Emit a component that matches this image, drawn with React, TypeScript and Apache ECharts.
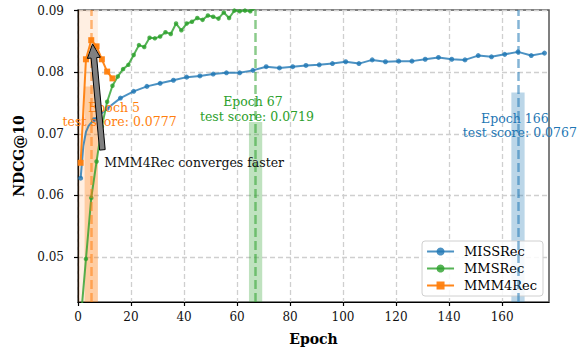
import React, { useEffect, useRef } from "react";
import * as echarts from "echarts";

// ---------- data ----------
const missEpochs = [1, 2, 3, 4, 6, 11, 16, 21, 26, 31, 36, 41, 46, 51, 56, 61, 66, 71, 76, 81, 86, 91, 96, 101, 106, 111, 116, 121, 126, 131, 136, 141, 146, 151, 156, 161, 166, 171, 176];
const missValues = [0.0628, 0.068, 0.0703, 0.0713, 0.0723, 0.0741, 0.0758, 0.0769, 0.0777, 0.0782, 0.0787, 0.0792, 0.0794, 0.0797, 0.0799, 0.0799, 0.0803, 0.0809, 0.0807, 0.0809, 0.0811, 0.0812, 0.0814, 0.0817, 0.0814, 0.082, 0.0817, 0.0818, 0.0818, 0.0821, 0.0824, 0.0821, 0.082, 0.0827, 0.0825, 0.0829, 0.0833, 0.0827, 0.0831];

const mmsEpochs = [1, 3, 5, 7, 9, 11, 13, 15, 17, 19, 21, 23, 25, 27, 29, 31, 33, 35, 37, 39, 41, 43, 45, 47, 49, 51, 53, 55, 57, 59, 61, 63, 65, 67];
const mmsValues = [0.0397, 0.0497, 0.0596, 0.0655, 0.0712, 0.0752, 0.0778, 0.0793, 0.0805, 0.0812, 0.0828, 0.0844, 0.0841, 0.0856, 0.0855, 0.0858, 0.0865, 0.0862, 0.0879, 0.0868, 0.0879, 0.0882, 0.0888, 0.0885, 0.0892, 0.089, 0.0887, 0.0897, 0.0888, 0.09, 0.0899, 0.09, 0.0899, 0.0904];

const mm4Epochs = [1, 3, 5, 7, 9, 11, 13];
const mm4Values = [0.0653, 0.0821, 0.0852, 0.0842, 0.0821, 0.0801, 0.079];

const seriesNames = ["MISSRec", "MMSRec", "MMM4Rec"];
const bestEpochs = [166, 67, 5];
const testScores = [0.0767, 0.0719, 0.0777];

const xTicks = [0, 20, 40, 60, 80, 100, 120, 140, 160];
const yTicks = [0.05, 0.06, 0.07, 0.08, 0.09];

const noteText = "MMM4Rec converges faster";

// ---------- layout / style ----------
const SERIF = "'DejaVu Serif', serif";
const COLORS = ["#1f77b4", "#2ca02c", "#ff7f0e"];
const X_MAX = 177.7;
const Y_MIN = 0.0427;
const Y_MAX = 0.0901;
const BAR_HALF = 2.5;
// text anchors (data coords) for [line1, line2] of each annotation
const ANN_POS = [
  [[164.8, 0.07243], [166.7, 0.07016]],
  [[66.0, 0.07519], [67.5, 0.07276]],
  [[13.6, 0.07422], [15.7, 0.07195]],
];
const NOTE_POS = [9.9, 0.0653];
const ARROW_TIP = [5.5, 0.0846];
const ARROW_TAIL = [9.2, 0.0674];

export default function App() {
  const ref = useRef<HTMLDivElement>(null);

  useEffect(() => {
    document.body.style.margin = "0";
    if (!ref.current) return;
    const chart = echarts.init(ref.current, undefined, { renderer: "svg" });

    const lineData = [
      missEpochs.map((e, i) => [e, missValues[i]]),
      mmsEpochs.map((e, i) => [e, mmsValues[i]]),
      mm4Epochs.map((e, i) => [e, mm4Values[i]]),
    ];

    const mainSeries = seriesNames.map((name, k) => {
      const areas: any[] = [
        [
          { coord: [bestEpochs[k] - BAR_HALF, Y_MIN], itemStyle: { color: COLORS[k], opacity: 0.3 } },
          { coord: [bestEpochs[k] + BAR_HALF, testScores[k]] },
        ],
      ];
      if (k === 2) {
        areas.unshift([
          { xAxis: 0, itemStyle: { color: COLORS[k], opacity: 0.12 } },
          { xAxis: bestEpochs[k] + BAR_HALF },
        ]);
      }
      return {
        name,
        type: "line",
        data: lineData[k],
        color: COLORS[k],
        symbol: k === 2 ? "rect" : "circle",
        showAllSymbol: true,
        symbolSize:
          k === 0
            ? (v: number[]) => ((v[0] - 1) % 5 === 0 ? 5 : 0)
            : k === 1
            ? 4.5
            : 6,
        lineStyle: { width: 2, opacity: k === 2 ? 0.95 : 0.8 },
        itemStyle: { color: COLORS[k], opacity: k === 2 ? 0.95 : 0.8 },
        z: 3 + k,
        markArea: { silent: true, data: areas, z: 1 },
        markLine: {
          silent: true,
          symbol: ["none", "none"],
          label: { show: false },
          lineStyle: { color: COLORS[k], type: [9, 4], width: 2.5, opacity: 0.55 },
          data: [{ xAxis: bestEpochs[k] }],
        },
      };
    });

    const annData: any[] = [];
    seriesNames.forEach((_, k) => {
      annData.push({
        value: ANN_POS[k][0],
        label: { formatter: "Epoch " + bestEpochs[k], color: COLORS[k] },
      });
      annData.push({
        value: ANN_POS[k][1],
        label: { formatter: "test score: " + testScores[k].toFixed(4), color: COLORS[k] },
      });
    });
    annData.push({
      value: NOTE_POS,
      label: { formatter: noteText, color: "#111", align: "left" },
    });

    const option: any = {
      animation: false,
      textStyle: { fontFamily: SERIF },
      grid: { left: 78, right: 37, top: 10, bottom: 50, show: true, borderColor: "#555", borderWidth: 1.5 },
      legend: {
        data: seriesNames,
        orient: "vertical",
        right: 43,
        bottom: 56,
        backgroundColor: "rgba(255,255,255,0.85)",
        borderColor: "#d0d0d0",
        borderWidth: 1,
        borderRadius: 3,
        padding: [4, 6, 4, 4],
        itemWidth: 27,
        itemHeight: 10,
        itemGap: 4,
        textStyle: { fontFamily: SERIF, fontSize: 13, color: "#000", padding: [0, 0, 0, 5] },
      },
      xAxis: {
        type: "value",
        min: 0,
        max: X_MAX,
        name: "Epoch",
        nameLocation: "middle",
        nameGap: 30,
        nameTextStyle: { fontFamily: SERIF, fontWeight: "bold", fontSize: 14, color: "#000" },
        axisLine: { show: true, onZero: false, lineStyle: { color: "#000", width: 1.2 } },
        axisTick: { show: true, length: 4, lineStyle: { color: "#000", width: 1.2 }, customValues: xTicks },
        axisLabel: { customValues: xTicks, color: "#111", fontSize: 12, margin: 9, fontFamily: SERIF },
        splitLine: { show: true, lineStyle: { type: [5, 3], color: "#cfcfcf", width: 1.3 } },
      },
      yAxis: {
        type: "value",
        min: Y_MIN,
        max: Y_MAX,
        name: "NDCG@10",
        nameLocation: "middle",
        nameGap: 48,
        nameTextStyle: { fontFamily: SERIF, fontWeight: "bold", fontSize: 14, color: "#000" },
        axisLine: { show: true, onZero: false, lineStyle: { color: "#000", width: 1.2 } },
        axisTick: { show: true, length: 4, lineStyle: { color: "#000", width: 1.2 }, customValues: yTicks },
        axisLabel: {
          customValues: yTicks,
          color: "#111",
          fontSize: 12,
          margin: 14,
          fontFamily: SERIF,
          formatter: (v: number) => v.toFixed(2),
        },
        splitLine: { show: true, lineStyle: { type: [5, 3], color: "#cfcfcf", width: 1.3 } },
      },
      series: [
        ...mainSeries,
        {
          name: "_annot",
          type: "scatter",
          symbolSize: 0,
          silent: true,
          z: 10,
          itemStyle: { opacity: 1 },
          data: annData,
          label: {
            show: true,
            position: "inside",
            fontFamily: SERIF,
            fontSize: 12.5,
            opacity: 1,
            align: "center",
            verticalAlign: "middle",
          },
        },
      ],
    };
    chart.setOption(option);

    // arrow drawn in pixel space derived from data coords
    const tip = chart.convertToPixel({ gridIndex: 0 }, ARROW_TIP) as number[];
    const tail = chart.convertToPixel({ gridIndex: 0 }, ARROW_TAIL) as number[];
    const dx = tip[0] - tail[0];
    const dy = tip[1] - tail[1];
    const len = Math.sqrt(dx * dx + dy * dy);
    const ux = dx / len, uy = dy / len;
    const nx = -uy, ny = ux;
    const w = 2.8, hw = 6.5, hl = 14;
    const bx = tip[0] - ux * hl, by = tip[1] - uy * hl;
    const pts = [
      [tail[0] + nx * w, tail[1] + ny * w],
      [bx + nx * w, by + ny * w],
      [bx + nx * hw, by + ny * hw],
      [tip[0], tip[1]],
      [bx - nx * hw, by - ny * hw],
      [bx - nx * w, by - ny * w],
      [tail[0] - nx * w, tail[1] - ny * w],
    ];
    chart.setOption({
      graphic: [
        {
          type: "polygon",
          z: 20,
          shape: { points: pts },
          style: { fill: "#808080", stroke: "#000", lineWidth: 1 },
        },
      ],
    });

    return () => chart.dispose();
  }, []);

  return <div ref={ref} style={{ width: 586, height: 352 }} />;
}
